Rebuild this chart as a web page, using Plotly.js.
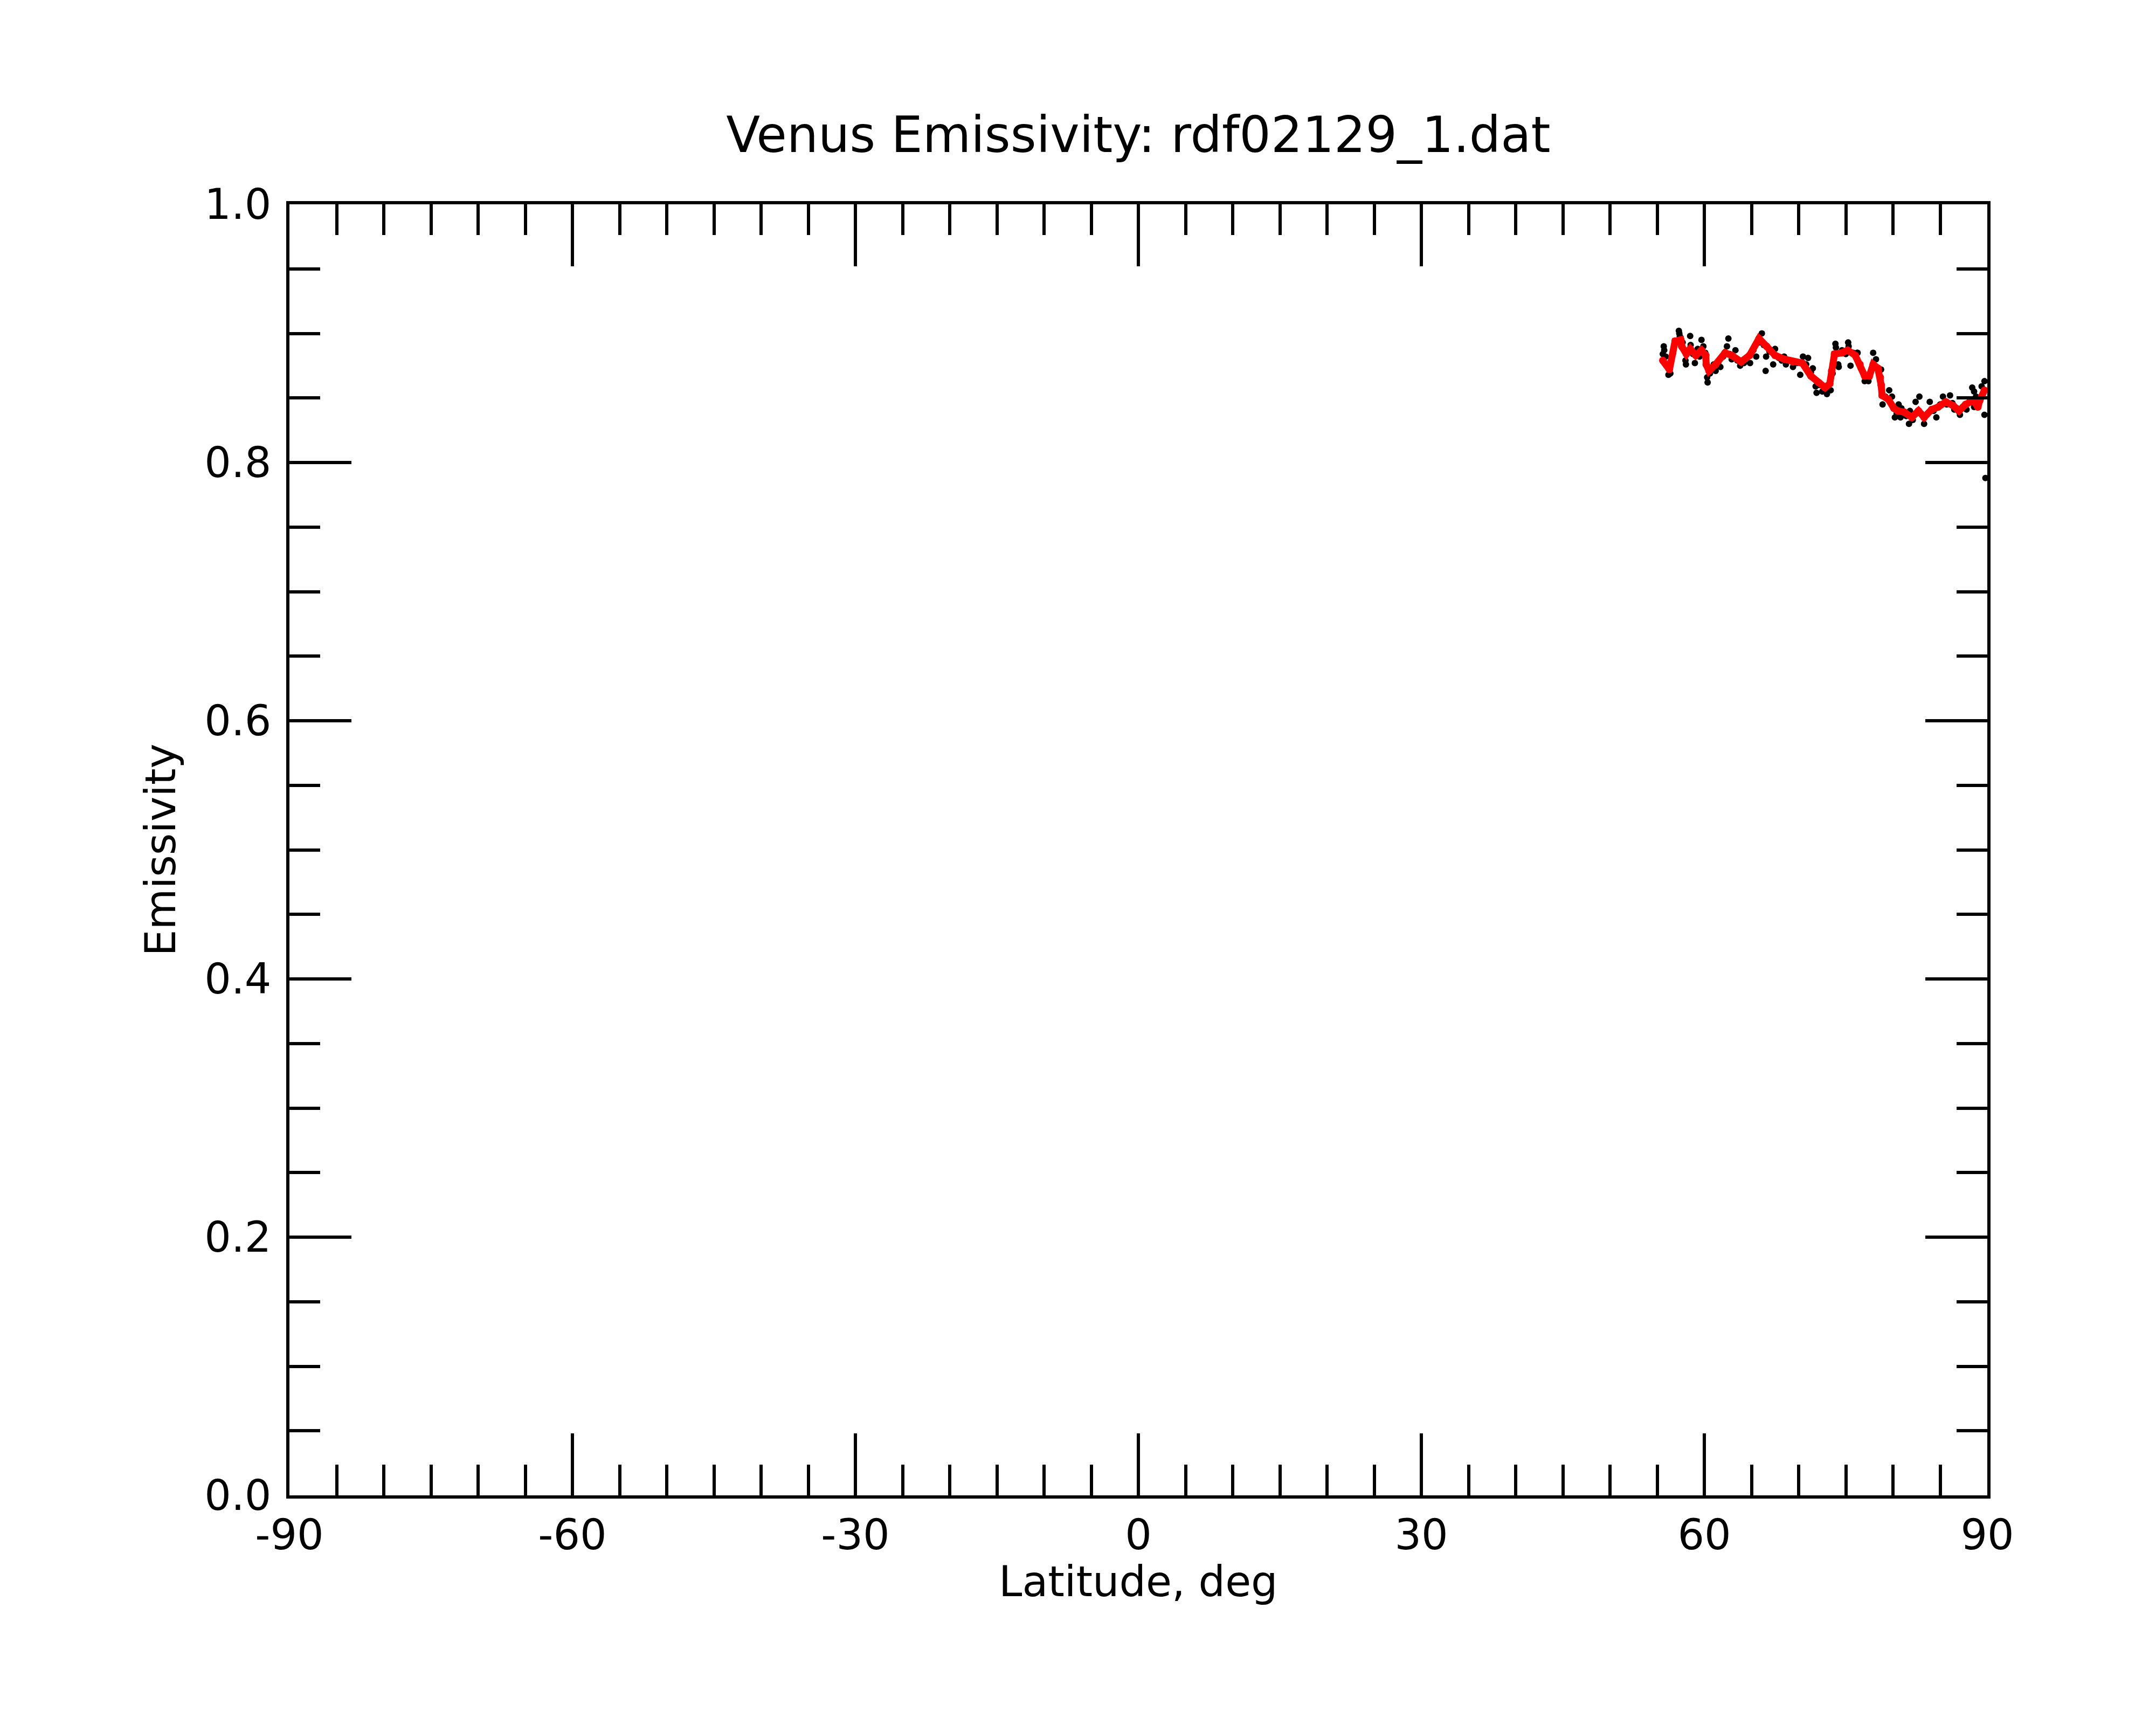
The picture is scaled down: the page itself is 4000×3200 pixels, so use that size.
<!DOCTYPE html>
<html>
<head>
<meta charset="utf-8">
<script src="https://cdn.plot.ly/plotly-3.0.1.min.js"></script>
<style>html,body{margin:0;padding:0;background:#fff;}</style>
</head>
<body>
<div id="chart" style="width:4000px;height:3200px;"></div>
<script>
// Raw emissivity samples (black dots)
const rawLat = [55.6,55.7,55.75,55.9,56.0,56.2,56.4,56.7,57.0,57.3,57.35,57.4,57.7,58.0,58.05,58.3,58.5,58.55,58.8,59.0,59.3,59.5,59.7,59.9,60.1,60.3,60.35,60.6,61.0,61.2,61.5,61.7,62.0,62.4,62.55,62.7,62.9,63.3,63.5,63.8,64.2,64.5,64.85,65.2,65.5,65.8,66.1,66.3,66.5,66.55,66.9,67.3,67.5,67.9,68.2,68.46,68.65,69.0,69.4,69.8,70.17,70.46,70.8,71.0,71.3,71.5,71.8,71.9,72.2,72.5,72.8,73.0,73.4,73.6,73.9,73.95,74.2,74.25,74.6,75.0,75.25,75.3,75.5,75.8,76.2,76.25,76.6,77.0,77.2,77.4,77.9,78.2,78.5,78.74,78.9,79.2,79.6,79.9,80.2,80.4,80.6,80.8,80.9,81.4,81.7,81.8,82.1,82.4,82.8,83.0,83.3,83.6,83.9,84.3,84.6,85.0,85.3,85.7,86.05,86.3,86.5,86.8,87.1,87.4,87.8,88.1,88.4,88.6,88.6,88.8,89.1,89.4,89.7,89.7,89.8];
const rawEmis = [0.884,0.890,0.887,0.882,0.875,0.868,0.869,0.885,0.893,0.902,0.900,0.898,0.893,0.879,0.876,0.886,0.898,0.891,0.884,0.877,0.888,0.882,0.895,0.890,0.885,0.866,0.862,0.869,0.876,0.871,0.878,0.874,0.882,0.890,0.896,0.884,0.880,0.887,0.879,0.875,0.877,0.881,0.877,0.887,0.882,0.893,0.900,0.891,0.871,0.882,0.886,0.876,0.888,0.881,0.879,0.882,0.876,0.879,0.874,0.877,0.868,0.882,0.876,0.881,0.870,0.873,0.859,0.854,0.860,0.855,0.856,0.853,0.856,0.869,0.892,0.889,0.876,0.874,0.887,0.884,0.893,0.890,0.875,0.885,0.885,0.885,0.873,0.863,0.866,0.863,0.885,0.880,0.870,0.872,0.845,0.851,0.856,0.851,0.835,0.838,0.845,0.835,0.842,0.836,0.830,0.840,0.833,0.847,0.851,0.838,0.830,0.837,0.847,0.840,0.835,0.845,0.851,0.845,0.852,0.846,0.841,0.842,0.837,0.843,0.841,0.847,0.858,0.855,0.843,0.851,0.846,0.859,0.863,0.837,0.788];

// Smoothed emissivity (red)
const smoothLat = [55.6,56.3,56.9,57.5,57.6,58.1,58.5,59.1,59.7,60.15,60.2,60.5,61.2,62.2,62.9,63.9,64.8,65.8,66.6,67.5,68.5,69.4,70.4,71.3,72.1,72.8,73.3,73.5,73.8,74.6,75.2,76.0,76.5,77.0,77.5,77.9,78.4,78.65,78.75,78.85,79.5,80.1,80.5,81.2,82.0,82.7,83.3,84.1,84.8,85.6,86.4,87.0,87.7,88.5,89.0,89.2,89.7];
const smoothEmis = [0.879,0.872,0.894,0.895,0.890,0.884,0.888,0.883,0.887,0.883,0.876,0.871,0.876,0.885,0.883,0.878,0.883,0.896,0.890,0.883,0.880,0.878,0.877,0.867,0.862,0.858,0.861,0.871,0.884,0.885,0.887,0.883,0.876,0.867,0.867,0.876,0.873,0.866,0.860,0.852,0.849,0.842,0.840,0.839,0.835,0.840,0.835,0.841,0.843,0.847,0.844,0.840,0.845,0.848,0.843,0.848,0.856];

const xTickVals = [-90,-60,-30,0,30,60,90];
const xTickText = ["-90","-60","-30","0","30","60","90"];
const yTickVals = [0,0.2,0.4,0.6,0.8,1.0];
const yTickText = ["0.0","0.2","0.4","0.6","0.8","1.0"];

const FONT = "DejaVu Sans";

const traces = [
  {
    x: rawLat, y: rawEmis, type: "scatter", mode: "markers",
    marker: {color: "#000000", size: 12},
    showlegend: false, hoverinfo: "skip"
  },
  {
    x: smoothLat, y: smoothEmis, type: "scatter", mode: "lines+markers",
    line: {color: "#ff0000", width: 13},
    marker: {color: "#ff0000", size: 14},
    showlegend: false, hoverinfo: "skip"
  }
];

const axisCommon = {
  showgrid: false, zeroline: false,
  showline: true, linecolor: "#000", linewidth: 6,
  mirror: "ticks", ticks: "inside", ticklen: 115, tickwidth: 6, tickcolor: "#000",
  tickfont: {family: FONT, size: 78, color: "#000"},
  fixedrange: true
};

const layout = {
  width: 4000, height: 3200,
  paper_bgcolor: "#fff", plot_bgcolor: "#fff",
  margin: {l: 537, r: 313, t: 379, b: 426, pad: 0},
  font: {family: FONT, color: "#000"},
  title: {
    text: "Venus Emissivity: rdf02129_1.dat",
    font: {family: FONT, size: 92, color: "#000"},
    x: 0.5, xref: "paper", xanchor: "center",
    y: 1 - 250/3200, yref: "container", yanchor: "middle"
  },
  xaxis: Object.assign({}, axisCommon, {
    range: [-90, 90],
    tickmode: "array", tickvals: xTickVals, ticktext: xTickText,
    minor: {dtick: 5, tick0: 0, ticks: "inside", ticklen: 57, tickwidth: 6, tickcolor: "#000", showgrid: false}
  }),
  yaxis: Object.assign({}, axisCommon, {
    range: [0, 1],
    tickmode: "array", tickvals: yTickVals, ticktext: yTickText,
    ticklabelstandoff: 12,
    minor: {dtick: 0.05, tick0: 0, ticks: "inside", ticklen: 57, tickwidth: 6, tickcolor: "#000", showgrid: false},
    title: {text: "Emissivity", font: {family: FONT, size: 78, color: "#000"}, standoff: 30}
  }),
  annotations: [{
    text: "Latitude, deg", showarrow: false,
    xref: "paper", yref: "paper", x: 0.5, y: -0.047,
    xanchor: "center", yanchor: "top",
    font: {family: FONT, size: 78, color: "#000"}
  }]
};

Plotly.newPlot("chart", traces, layout, {staticPlot: true, displayModeBar: false});
</script>
</body>
</html>
